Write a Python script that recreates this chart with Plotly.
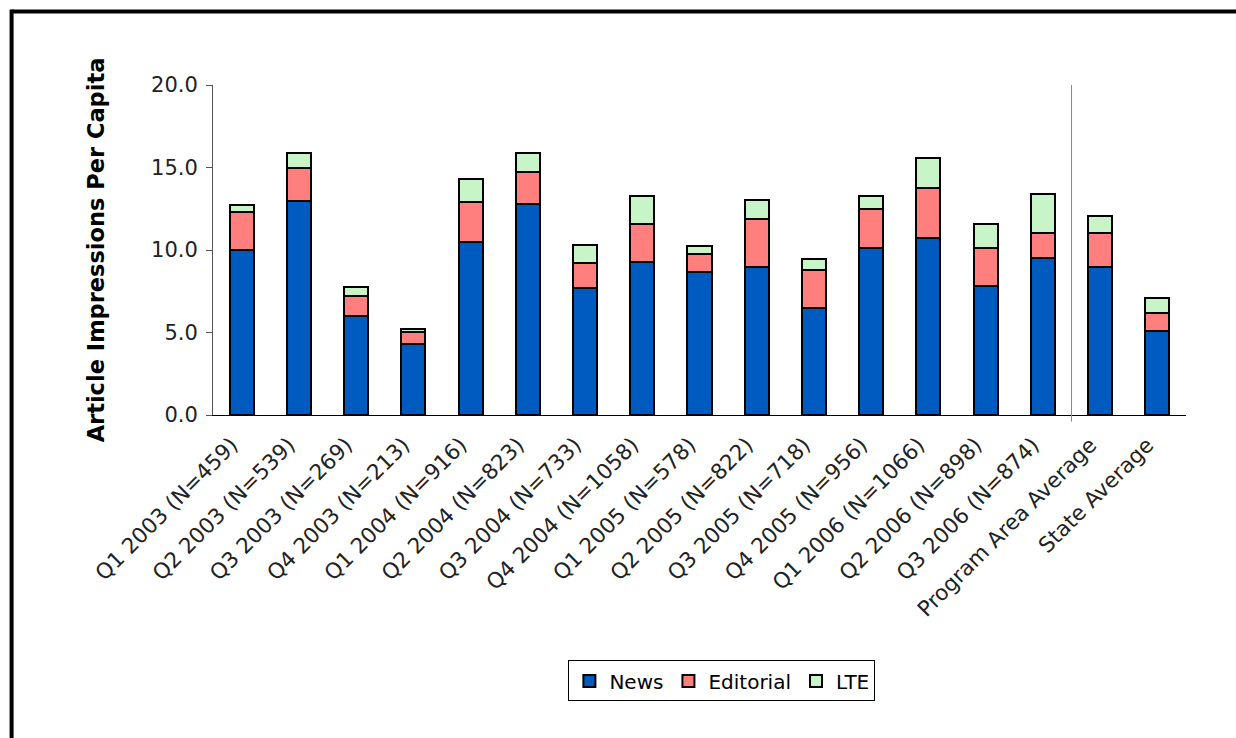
import plotly.graph_objects as go

categories = [
    "Q1 2003 (N=459)", "Q2 2003 (N=539)", "Q3 2003 (N=269)", "Q4 2003 (N=213)",
    "Q1 2004 (N=916)", "Q2 2004 (N=823)", "Q3 2004 (N=733)", "Q4 2004 (N=1058)",
    "Q1 2005 (N=578)", "Q2 2005 (N=822)", "Q3 2005 (N=718)", "Q4 2005 (N=956)",
    "Q1 2006 (N=1066)", "Q2 2006 (N=898)", "Q3 2006 (N=874)",
    "Program Area Average", "State Average",
]

news = [10.0, 13.0, 6.0, 4.3, 10.5, 12.8, 7.7, 9.3, 8.65, 9.0, 6.5, 10.1,
        10.7, 7.8, 9.5, 9.0, 5.1]
editorial = [2.3, 2.0, 1.2, 0.75, 2.4, 1.9, 1.5, 2.3, 1.1, 2.9, 2.3, 2.4,
             3.05, 2.3, 1.55, 2.05, 1.1]
lte = [0.4, 0.9, 0.55, 0.15, 1.4, 1.15, 1.1, 1.65, 0.5, 1.15, 0.65, 0.8,
       1.85, 1.45, 2.35, 1.0, 0.9]

y_ticks = [0, 5, 10, 15, 20]

font = "DejaVu Sans, Verdana, sans-serif"

fig = go.Figure()

for name, vals, color in [("News", news, "#005BC0"),
                          ("Editorial", editorial, "#FF7F7F"),
                          ("LTE", lte, "#C8F5C8")]:
    fig.add_trace(go.Bar(
        x=categories,
        y=vals,
        name=name,
        marker=dict(color=color, line=dict(color="black", width=2)),
    ))

# separator between quarters and averages
fig.add_shape(type="line", xref="x", yref="paper",
              x0=14.5, x1=14.5, y0=-0.02, y1=1,
              line=dict(color="#888888", width=1))

# outer frame: only top and left edges are inside the picture
fig.add_shape(type="line", xref="paper", yref="paper",
              x0=-0.207, x1=1.3, y0=1.223, y1=1.223,
              line=dict(color="black", width=4))
fig.add_shape(type="line", xref="paper", yref="paper",
              x0=-0.207, x1=-0.207, y0=-1.3, y1=1.229,
              line=dict(color="black", width=4))

fig.update_layout(
    barmode="stack",
    bargap=0.58,
    width=1236,
    height=738,
    margin=dict(l=213, r=50, t=85, b=323),
    plot_bgcolor="white",
    paper_bgcolor="white",
    font=dict(family=font, size=18, color="black"),
    showlegend=True,
    legend=dict(
        orientation="h",
        x=0.523, y=-0.806, xanchor="center", yanchor="middle",
        bordercolor="black", borderwidth=1,
        font=dict(size=20),
        itemwidth=30,
        traceorder="normal",
    ),
    xaxis=dict(
        tickangle=-45,
        showline=True, linecolor="black", linewidth=1,
        ticks="",
        ticklabelstandoff=8,
        ticklabelshift=-10,
        tickfont=dict(size=21.5, color="#222222"),
    ),
    yaxis=dict(
        range=[0, 20],
        tickvals=y_ticks,
        tickformat=".1f",
        showgrid=False,
        zeroline=False,
        showline=True, linecolor="#555555", linewidth=1,
        ticks="outside", ticklen=6, tickcolor="#555555",
        ticklabelstandoff=4,
        tickfont=dict(size=21, color="#222222"),
        title=dict(text="<b>Article Impressions Per Capita</b>",
                   font=dict(size=22.5), standoff=40),
    ),
)

# drop the default body margin so the fixed-size figure fills the window
fig.write_html("out.html", config={"displayModeBar": False},
               post_script="document.body.style.margin='0';")
